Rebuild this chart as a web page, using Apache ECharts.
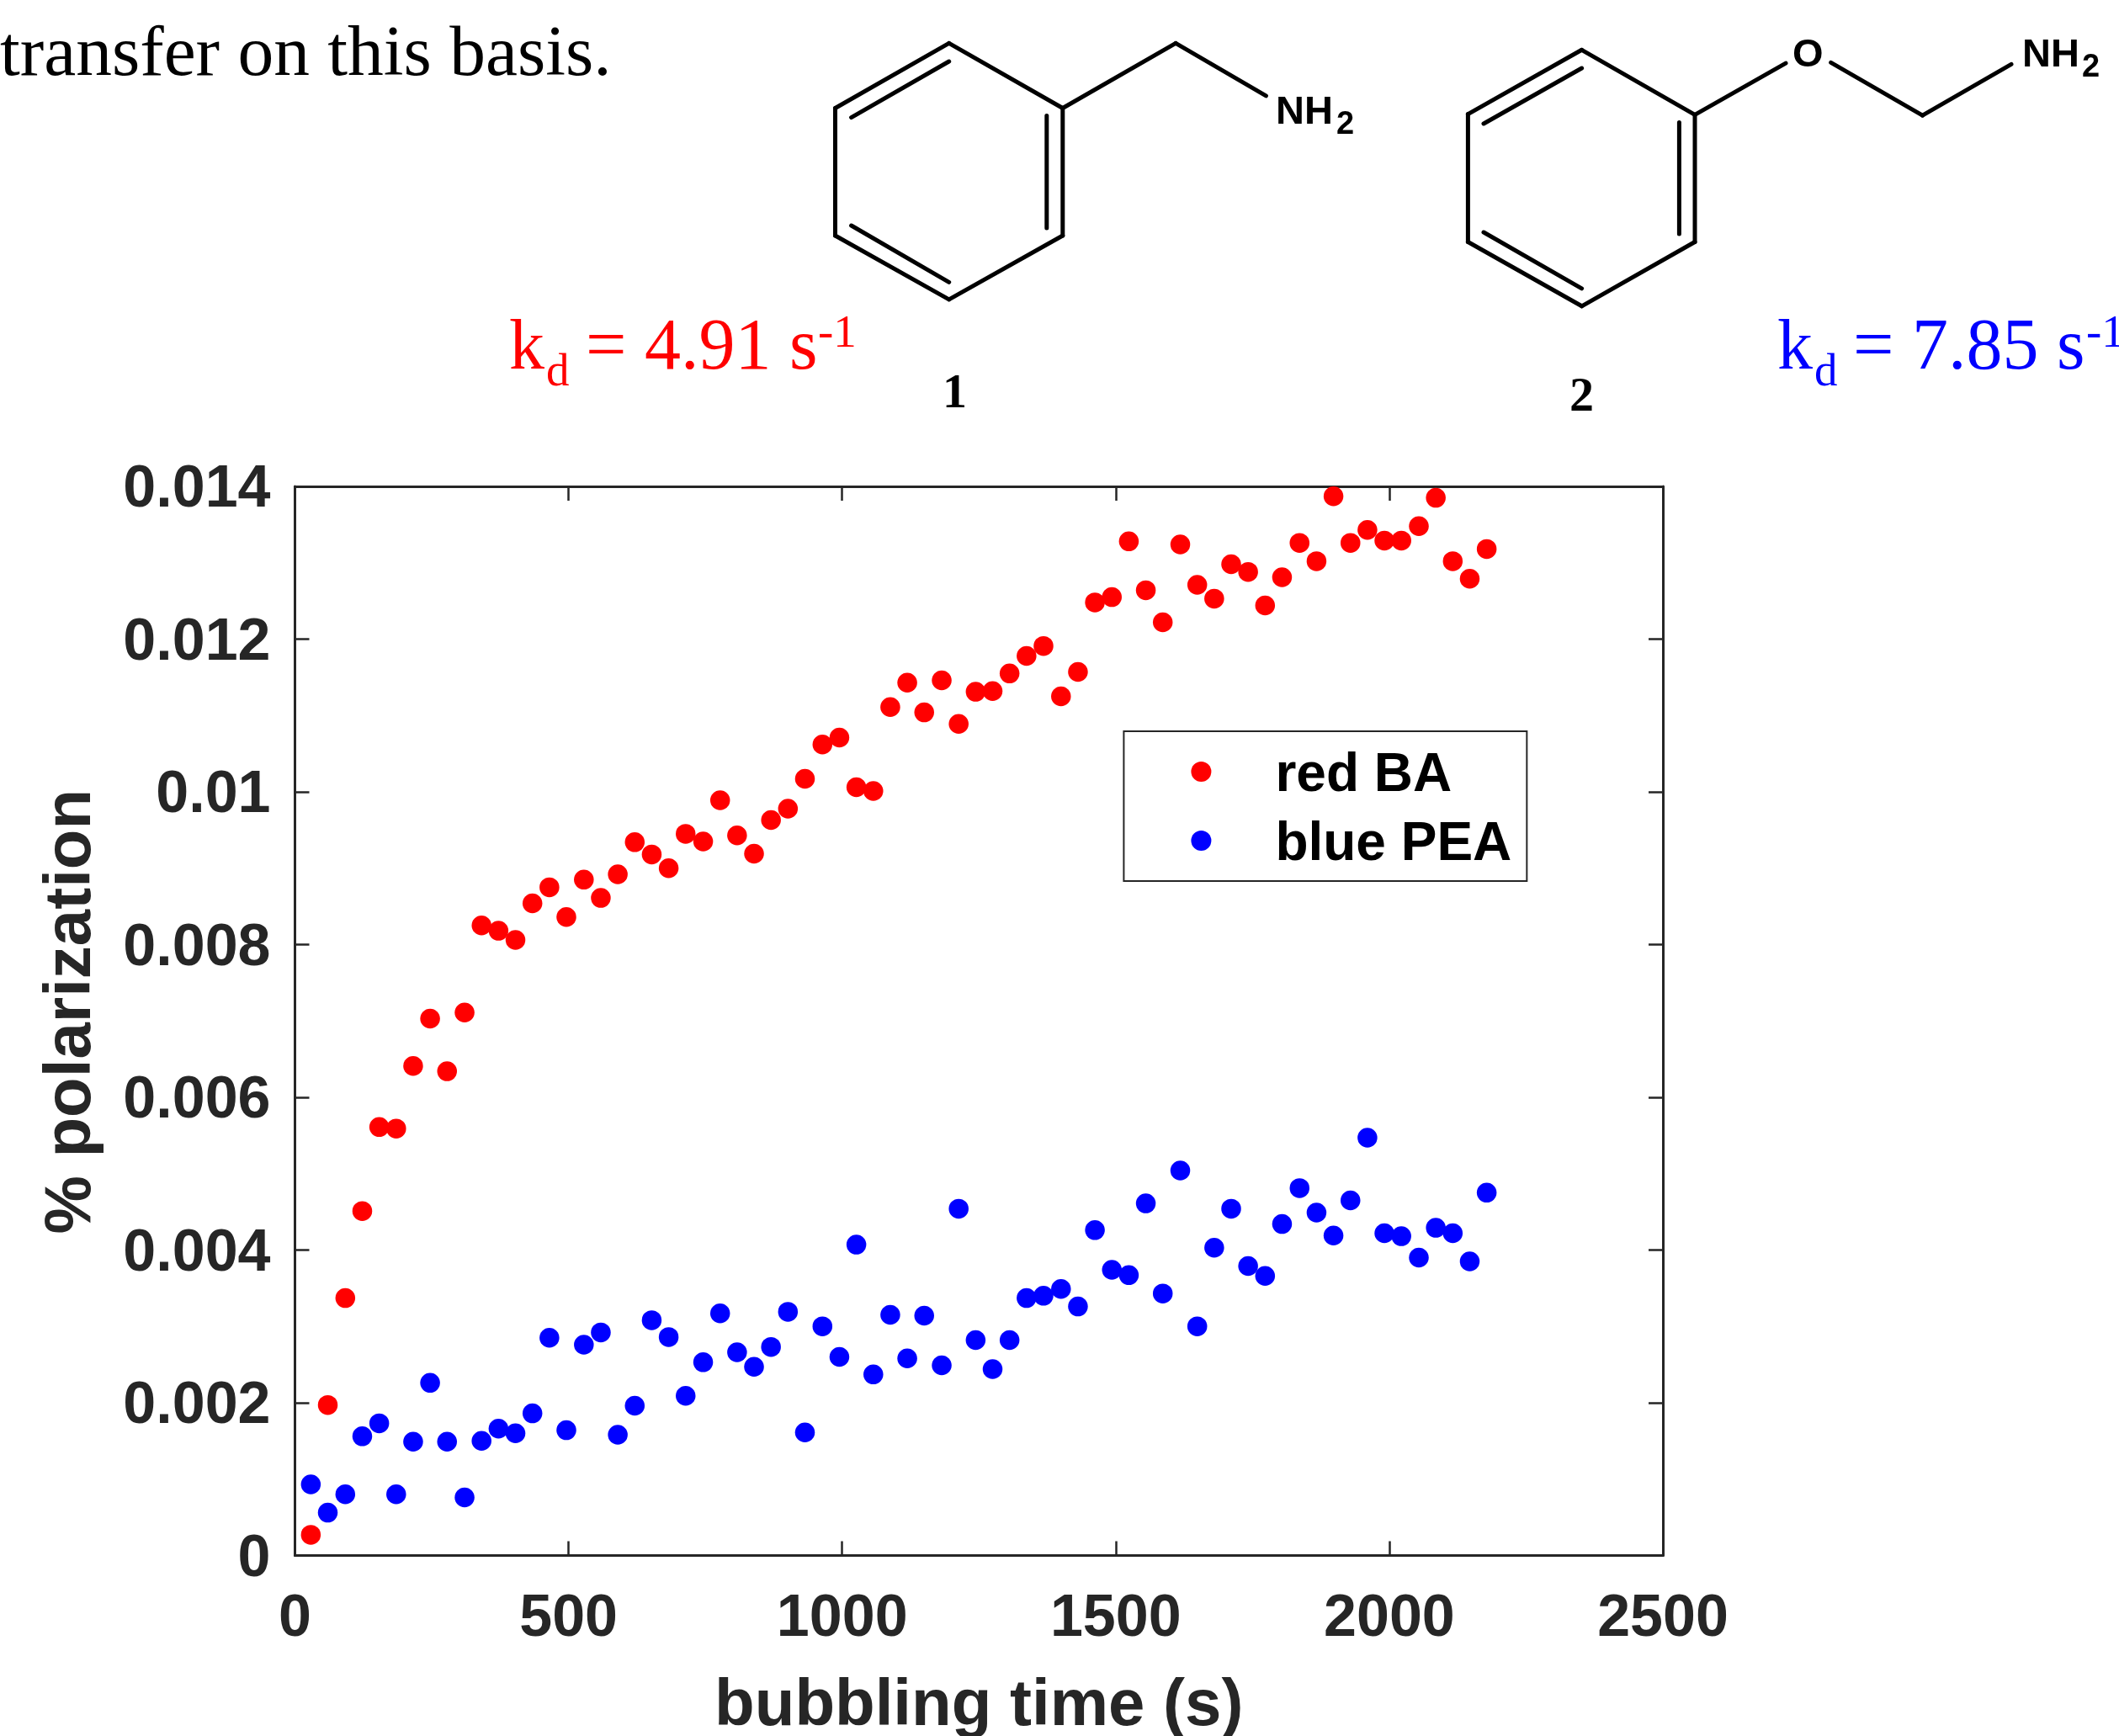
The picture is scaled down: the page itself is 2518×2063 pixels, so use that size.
<!DOCTYPE html>
<html>
<head>
<meta charset="utf-8">
<style>html,body{margin:0;padding:0;background:#fff}#c{width:2518px;height:2063px}</style>
<script src="https://cdn.jsdelivr.net/npm/echarts@6/dist/echarts.min.js"></script>
</head>
<body>
<div id="c"></div>
<script>
const bubblingTime = [29,60,92,123,154,185,216,247,278,310,341,372,403,434,465,496,528,559,590,621,652,683,714,746,777,808,839,870,901,932,964,995,1026,1057,1088,1119,1150,1182,1213,1244,1275,1306,1337,1368,1400,1431,1462,1493,1524,1555,1586,1618,1649,1680,1711,1742,1773,1804,1836,1867,1898,1929,1960,1991,2022,2054,2085,2116,2147,2178];
const redBA = [0.27,1.97,3.37,4.51,5.61,5.59,6.41,7.03,6.34,7.11,8.25,8.18,8.06,8.54,8.75,8.36,8.85,8.61,8.92,9.34,9.18,9.00,9.45,9.35,9.89,9.43,9.19,9.63,9.78,10.17,10.62,10.71,10.06,10.01,11.11,11.43,11.04,11.46,10.89,11.31,11.32,11.55,11.78,11.91,11.25,11.57,12.48,12.55,13.28,12.64,12.22,13.24,12.71,12.53,12.98,12.88,12.44,12.81,13.26,13.02,13.87,13.26,13.43,13.29,13.29,13.48,13.85,13.02,12.79,13.18];
const bluePEA = [0.93,0.56,0.80,1.56,1.73,0.80,1.49,2.26,1.49,0.76,1.50,1.66,1.60,1.86,2.85,1.64,2.76,2.92,1.58,1.96,3.08,2.86,2.09,2.53,3.17,2.66,2.47,2.73,3.19,1.61,3.00,2.60,4.07,2.37,3.15,2.58,3.14,2.49,4.54,2.82,2.44,2.82,3.37,3.40,3.49,3.26,4.26,3.74,3.67,4.61,3.43,5.04,3.00,4.03,4.54,3.79,3.66,4.34,4.81,4.49,4.19,4.65,5.47,4.22,4.18,3.90,4.29,4.22,3.85,4.75];
const xTickLabels = ['0','500','1000','1500','2000','2500'];
const yTickLabels = ['0','0.002','0.004','0.006','0.008','0.01','0.012','0.014'];
const seriesNames = ['red BA','blue PEA'];
const xTitle = 'bubbling time (s)';
const yTitle = '% polarization';

const INK = '#262626', SANS = '"Liberation Sans", Arial, sans-serif', SERIF = '"Liberation Serif", "Times New Roman", serif';
const scaleUnit = 0.001;
const pairs = ys => bubblingTime.map((t,i)=>[t, ys[i]*scaleUnit]);

/* chemical structures: annotation drawing, not data */
const bonds = [
 [1127.7,51.4,1262.8,128.5],[1262.8,128.5,1262.8,280],[1262.8,280,1127.7,355.9],[1127.7,355.9,992.5,280],[992.5,280,992.5,128.5],[992.5,128.5,1127.7,51.4],
 [1127.7,73,1011.6,139.6],[1243.8,137.6,1243.8,270.9],[1011.6,268,1127.7,335.3],
 [1262.8,128.5,1397.1,51.4],[1397.1,51.4,1504.4,113.9],
 [1879.6,59.3,2014,136.4],[2014,136.4,2014,287.5],[2014,287.5,1879.6,363.8],[1879.6,363.8,1744.4,287.5],[1744.4,287.5,1744.4,135.6],[1744.4,135.6,1879.6,59.3],
 [1879.6,81,1763,147],[1995.4,145.5,1995.4,278],[1763,276,1879.6,342.8],
 [2014,136.4,2122,75.1],[2175.7,74.3,2284.5,137.2],[2284.5,137.2,2390,76.3]
];
const labels = [
 ['transfer on this basis.',0,88,85.5,SERIF,'normal','#000'],
 ['k',605,437,84,SERIF,'normal','#ff0000'],['d',649,457,55,SERIF,'normal','#ff0000'],['= 4.91 s',696,437,86,SERIF,'normal','#ff0000'],['-1',972,411,55,SERIF,'normal','#ff0000'],
 ['k',2112,437,84,SERIF,'normal','#0000ff'],['d',2156,457,55,SERIF,'normal','#0000ff'],['= 7.85 s',2202,437,86,SERIF,'normal','#0000ff'],['-1',2479,411,55,SERIF,'normal','#0000ff'],
 ['1',1120,484,58,SERIF,'bold','#000'],['2',1865,488,58,SERIF,'bold','#000'],
 ['NH',1516,145.5,47,SANS,'bold','#000'],['2',1588,158,38,SANS,'bold','#000'],
 ['O',2130,78,47,SANS,'bold','#000'],
 ['NH',2403,78,47,SANS,'bold','#000'],['2',2474,90,38,SANS,'bold','#000']
];

const graphic = [
 ...bonds.map(b=>({type:'line',silent:true,shape:{x1:b[0],y1:b[1],x2:b[2],y2:b[3]},style:{stroke:'#000',lineWidth:5,lineCap:'round'}})),
 ...labels.map(l=>({type:'text',silent:true,x:l[1],y:l[2]-0.25*l[3],style:{text:l[0],x:0,y:0,verticalAlign:'middle',align:'left',font:`${l[5]} ${l[3]}px ${l[4]}`,fill:l[6]}}))
];

const axisLine = {show:true,onZero:false,lineStyle:{color:INK,width:3}};
const axisTick = {show:true,inside:true,length:17,lineStyle:{color:INK,width:2.5}};
const xBase = {type:'value',min:0,max:2500,interval:500,splitLine:{show:false},axisLine,axisTick};
const yBase = {type:'value',min:0,max:0.014,interval:0.002,splitLine:{show:false},axisLine,axisTick};
const labelFont = {color:INK,fontFamily:SANS,fontWeight:'bold',fontSize:70};

const option = {
 animation:false,
 backgroundColor:'#fff',
 grid:{left:350.5,top:578,right:2518-1976,bottom:2063-1848.4,containLabel:false,outerBoundsMode:'none'},
 xAxis:[
  {...xBase,position:'bottom',axisLabel:{...labelFont,margin:41,hideOverlap:false,formatter:v=>xTickLabels[Math.round(v/500)]},
   name:xTitle,nameLocation:'middle',nameGap:141,nameTextStyle:{color:INK,fontFamily:SANS,fontWeight:'bold',fontSize:78}},
  {...xBase,position:'top',axisLabel:{show:false}}
 ],
 yAxis:[
  {...yBase,position:'left',axisLabel:{margin:29,hideOverlap:false,formatter:v=>`{a|${yTickLabels[Math.round(v/0.002)]}}`,rich:{a:{...labelFont,padding:[10,0,0,0]}}},
   name:yTitle,nameLocation:'middle',nameGap:226,nameTextStyle:{color:INK,fontFamily:SANS,fontWeight:'bold',fontSize:78,padding:[0,0,0,22]}},
  {...yBase,position:'right',axisLabel:{show:false}}
 ],
 legend:{
  orient:'vertical',left:1335.4,top:869,padding:[11,18,11,80],itemGap:8,itemWidth:24,itemHeight:24,icon:'circle',
  backgroundColor:'#fff',borderColor:INK,borderWidth:2,borderRadius:0,
  formatter:n=>`{a|${n}}`,
  textStyle:{rich:{a:{color:'#000',fontFamily:SANS,fontWeight:'bold',fontSize:64,lineHeight:63,padding:[10,0,0,71]}}},
  data:seriesNames
 },
 series:[
  {name:seriesNames[0],type:'scatter',symbol:'circle',symbolSize:23.5,clip:false,itemStyle:{color:'#ff0000',opacity:1},data:pairs(redBA)},
  {name:seriesNames[1],type:'scatter',symbol:'circle',symbolSize:23.5,clip:false,itemStyle:{color:'#0000ff',opacity:1},data:pairs(bluePEA)}
 ],
 graphic
};
echarts.init(document.getElementById('c')).setOption(option);
</script>
</body>
</html>
